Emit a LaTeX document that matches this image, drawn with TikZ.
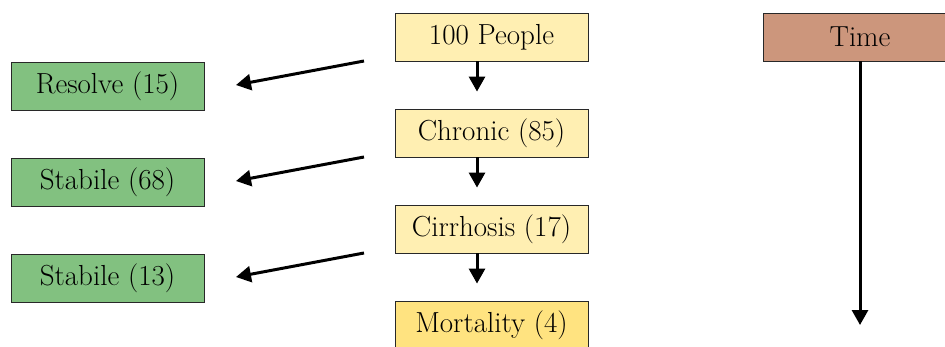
\documentclass[tikz,border=0pt]{standalone}
\usepackage{tikz}
\usetikzlibrary{arrows.meta, positioning}
\definecolor{stablegreen}{RGB}{130,193,128}
\definecolor{stageyellow}{RGB}{255,239,178}
\definecolor{deathyellow}{RGB}{255,227,128}
\definecolor{timebrown}{RGB}{204,150,124}
\definecolor{edgegray}{RGB}{40,40,40}

\begin{document}
\begin{tikzpicture}[x=0.02cm, y=-0.02cm,
  box/.style={draw=edgegray, line width=0.5pt, minimum width=3.86cm, minimum height=0.96cm, inner sep=0pt, font=\fontsize{16.5}{19}\selectfont},
  flow/.style={line width=1.7pt, -{Triangle[length=0.3cm, width=0.32cm]}}]
\useasboundingbox (0,0) rectangle (945,347);

% Main stages
\node[box, fill=stageyellow] (people) at (491.5,37) {100 People};
\node[box, fill=stageyellow] (chronic) at (491.5,133) {Chronic (85)};
\node[box, fill=stageyellow] (cirrhosis) at (491.5,229) {Cirrhosis (17)};
\node[box, fill=deathyellow] (mortality) at (491.5,325) {Mortality (4)};

% Outcomes on the left
\node[box, fill=stablegreen] (resolve) at (107.5,86.5) {Resolve (15)};
\node[box, fill=stablegreen] (stabileA) at (107.5,182.5) {Stabile (68)};
\node[box, fill=stablegreen] (stabileB) at (107.5,278.5) {Stabile (13)};

% Time axis
\node[box, fill=timebrown] (time) at (860,37) {Time};
\coordinate (timeEnd) at (860,325);

% Branch points
\coordinate (fromPeople) at (364,61);
\coordinate (fromChronic) at (364,157);
\coordinate (fromCirrhosis) at (364,253);
\coordinate (toResolve) at (236,85);
\coordinate (toStabileA) at (236,181);
\coordinate (toStabileB) at (236,277);

\draw[flow, shorten >=0.34cm] ([xshift=-0.29cm]people.south) -- ([xshift=-0.29cm]chronic.north);
\draw[flow, shorten >=0.34cm] ([xshift=-0.29cm]chronic.south) -- ([xshift=-0.29cm]cirrhosis.north);
\draw[flow, shorten >=0.34cm] ([xshift=-0.29cm]cirrhosis.south) -- ([xshift=-0.29cm]mortality.north);

\draw[flow] (fromPeople) -- (toResolve);
\draw[flow] (fromChronic) -- (toStabileA);
\draw[flow] (fromCirrhosis) -- (toStabileB);

\draw[flow] (time) -- (timeEnd);
\end{tikzpicture}
\end{document}
